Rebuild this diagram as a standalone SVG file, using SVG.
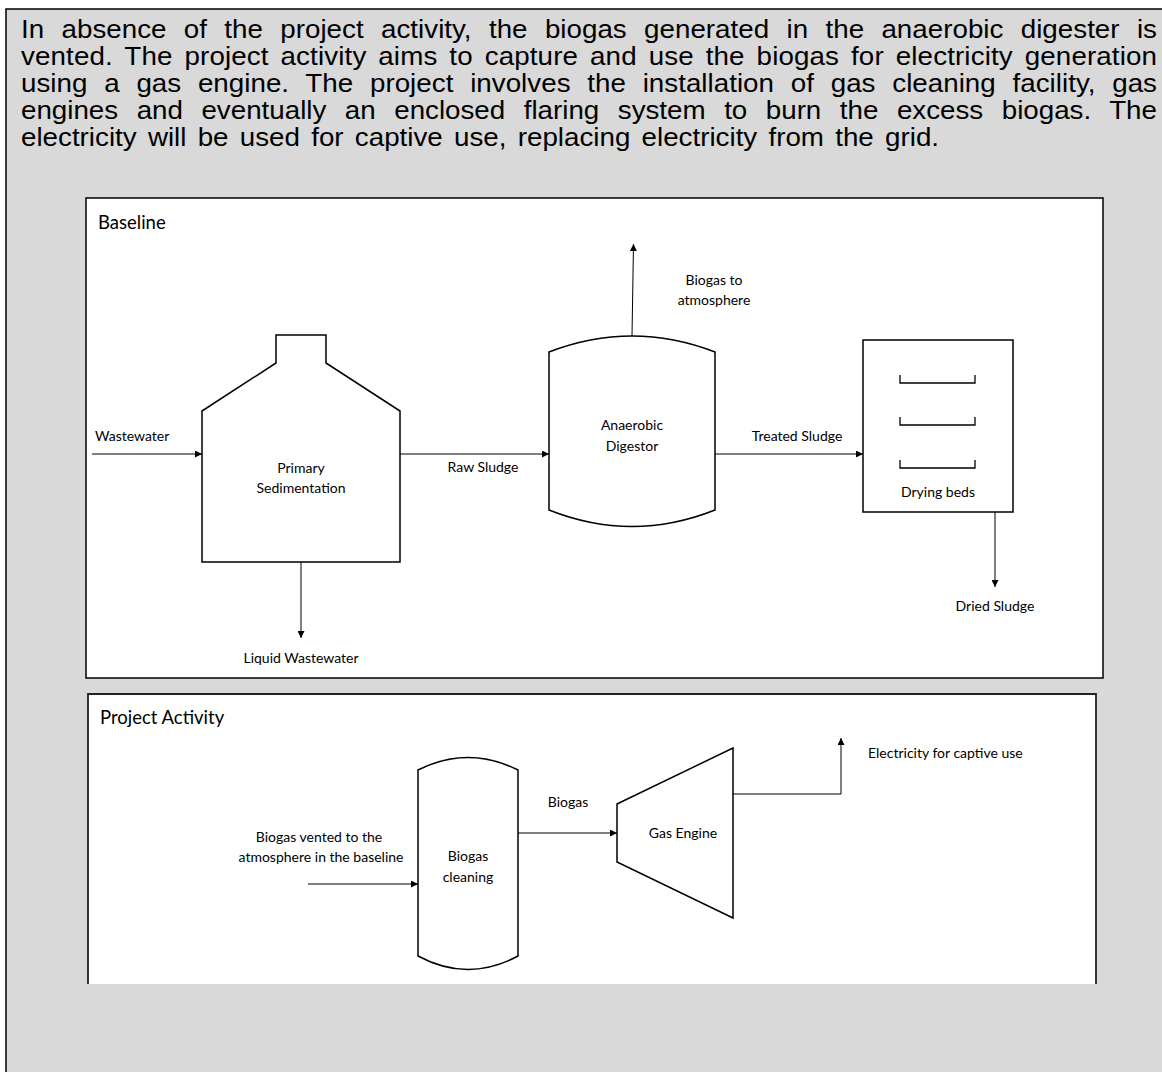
<svg xmlns="http://www.w3.org/2000/svg" width="1162" height="1072" viewBox="0 0 1162 1072">
<defs>
<style>
.para{font-family:"Liberation Sans",Arial,sans-serif;font-size:25px;fill:#000}
.lbl{font-family:Lato,"Open Sans",sans-serif;font-size:14px;fill:#000}
.ttl{font-family:Lato,"Open Sans",sans-serif;font-size:18.5px;fill:#000}
.shape{fill:#fff;stroke:#000;stroke-width:1.5}
.conn{fill:none;stroke:#000;stroke-width:1}
</style>
<marker id="ah" viewBox="0 0 10 10" refX="10" refY="5" markerWidth="7" markerHeight="7" markerUnits="userSpaceOnUse" orient="auto">
<path d="M0,0 L10,5 L0,10 z" fill="#000"/>
</marker>
</defs>
<rect x="0" y="0" width="1162" height="1072" fill="#fff"/>
<rect id="frame" x="6" y="9" width="1170" height="1080" fill="#d9d9d9" stroke="#000" stroke-width="1.5"/>
<g id="paragraph" class="para" transform="translate(21,0) scale(1.11,1)">
<text x="0" y="38" word-spacing="8.65" textLength="1023.4">In absence of the project activity, the biogas generated in the anaerobic digester is</text>
<text x="0" y="65" word-spacing="3.7" textLength="1023.4">vented. The project activity aims to capture and use the biogas for electricity generation</text>
<text x="0" y="92" word-spacing="8.14" textLength="1023.4">using a gas engine. The project involves the installation of gas cleaning facility, gas</text>
<text x="0" y="119" word-spacing="9.75" textLength="1023.4">engines and eventually an enclosed flaring system to burn the excess biogas. The</text>
<text x="0" y="146" word-spacing="3.2">electricity will be used for captive use, replacing electricity from the grid.</text>
</g>
<g id="baseline-panel">
<rect x="86" y="198" width="1017" height="480" fill="#fff" stroke="#000" stroke-width="1.5"/>
<text class="ttl" x="98" y="229">Baseline</text>
</g>
<g id="project-panel">
<rect x="88" y="694" width="1008" height="290" fill="#fff"/>
<path d="M88,984 V694 H1096 V984" fill="none" stroke="#222" stroke-width="1.8"/>
<text class="ttl" x="100" y="724">Project Activity</text>
</g>
<g id="primary-sedimentation">
<path class="shape" d="M202,411 L276,363 L276,335 L326,335 L326,363 L400,411 L400,562 L202,562 Z"/>
<text class="lbl" x="301" y="473" text-anchor="middle">Primary</text>
<text class="lbl" x="301" y="493" text-anchor="middle">Sedimentation</text>
</g>
<g id="anaerobic-digestor">
<path class="shape" d="M549,352 Q632,320 715,352 L715,510 Q632,543 549,510 Z"/>
<text class="lbl" x="632" y="430" text-anchor="middle">Anaerobic</text>
<text class="lbl" x="632" y="451" text-anchor="middle">Digestor</text>
</g>
<g id="drying-beds">
<rect class="shape" x="863" y="340" width="150" height="172"/>
<path d="M900,375 V383 H975 V375 M900,417 V425 H975 V417 M900,460 V468 H975 V460" fill="none" stroke="#000" stroke-width="1.3"/>
<text class="lbl" x="938" y="497" text-anchor="middle">Drying beds</text>
</g>
<g id="biogas-cleaning">
<path class="shape" d="M418,770 Q468,745 518,770 L518,956 Q468,983 418,956 Z"/>
<text class="lbl" x="468" y="861" text-anchor="middle">Biogas</text>
<text class="lbl" x="468" y="882" text-anchor="middle">cleaning</text>
</g>
<g id="gas-engine">
<path class="shape" d="M617,804 L733,748 L733,918 L617,862 Z"/>
<text class="lbl" x="683" y="838" text-anchor="middle">Gas Engine</text>
</g>
<g id="connectors">
<line class="conn" x1="92" y1="454" x2="202" y2="454" marker-end="url(#ah)"/>
<line class="conn" x1="400" y1="454" x2="549" y2="454" marker-end="url(#ah)"/>
<line class="conn" x1="632" y1="336" x2="633.5" y2="244" marker-end="url(#ah)"/>
<line class="conn" x1="715" y1="454" x2="863" y2="454" marker-end="url(#ah)"/>
<line class="conn" x1="995" y1="512" x2="995" y2="587" marker-end="url(#ah)"/>
<line class="conn" x1="301" y1="562" x2="301" y2="638" marker-end="url(#ah)"/>
<line class="conn" x1="308" y1="884" x2="418" y2="884" marker-end="url(#ah)"/>
<line class="conn" x1="518" y1="833" x2="617" y2="833" marker-end="url(#ah)"/>
<path class="conn" d="M733,794 H841 V738" marker-end="url(#ah)"/>
</g>
<g id="connector-labels" class="lbl">
<text x="95" y="441">Wastewater</text>
<text x="483" y="472" text-anchor="middle">Raw Sludge</text>
<text x="714" y="285" text-anchor="middle">Biogas to</text>
<text x="714" y="305" text-anchor="middle">atmosphere</text>
<text x="797" y="441" text-anchor="middle">Treated Sludge</text>
<text x="995" y="611" text-anchor="middle">Dried Sludge</text>
<text x="301" y="663" text-anchor="middle">Liquid Wastewater</text>
<text x="319" y="842" text-anchor="middle">Biogas vented to the</text>
<text x="321" y="862" text-anchor="middle">atmosphere in the baseline</text>
<text x="568" y="807" text-anchor="middle">Biogas</text>
<text x="868" y="758">Electricity for captive use</text>
</g>
</svg>
